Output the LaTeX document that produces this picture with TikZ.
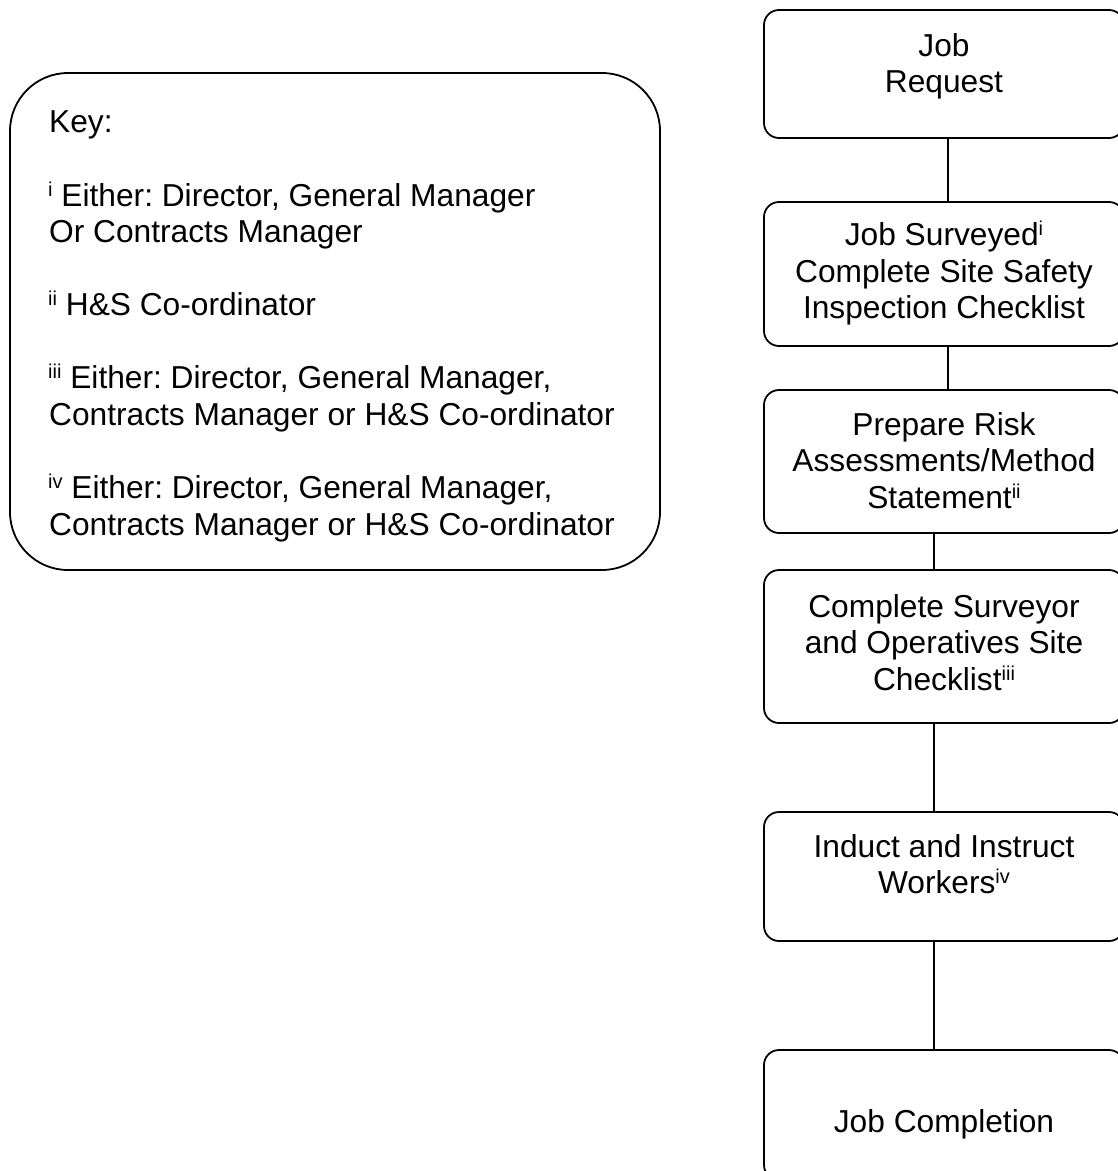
\documentclass[tikz,border=0pt]{standalone}
\usepackage{fontspec}
\setmainfont{Liberation Sans}
\frenchspacing
\newcommand\supx[1]{\raisebox{10pt}{\fontsize{20}{20}\selectfont #1}}
\tikzset{
  flowbox/.style={draw, line width=1.8pt, rounded corners=15pt, inner sep=0pt, outer sep=0pt, minimum width=360pt},
  flowtxt/.style={align=center, inner sep=0pt, font=\fontsize{31.7}{36.5}\selectfont},
  keytxt/.style={anchor=base west, inner sep=0pt, font=\fontsize{31.7}{35}\selectfont},
  link/.style={line width=1.8pt}
}
\begin{document}
\begin{tikzpicture}[x=1pt,y=-1pt]
\useasboundingbox (0,0) rectangle (1118,1171);
\clip (0,0) rectangle (1118,1171);
% key box
\node[draw, line width=1.8pt, rounded corners=58pt, inner sep=0pt, minimum width=650pt, minimum height=497pt] (key) at (335,321.5) {};
\node[keytxt] (k1) at (49,132) {Key:};
\node[keytxt] (k2) at (48,206) {\supx{i} Either: Director, General Manager};
\node[keytxt] (k3) at (49,242) {Or Contracts Manager};
\node[keytxt] (k4) at (48,315) {\supx{ii} H\&S Co-ordinator};
\node[keytxt] (k5) at (48,388) {\supx{iii} Either: Director, General Manager,};
\node[keytxt] (k6) at (49,425) {Contracts Manager or H\&S Co-ordinator};
\node[keytxt] (k7) at (48,498) {\supx{iv} Either: Director, General Manager,};
\node[keytxt] (k8) at (49,535) {Contracts Manager or H\&S Co-ordinator};
% flow boxes
\node[flowbox, minimum height=128pt] (b1) at (944,74) {};
\node[flowbox, minimum height=144pt] (b2) at (944,274) {};
\node[flowbox, minimum height=143pt] (b3) at (944,461.5) {};
\node[flowbox, minimum height=153pt] (b4) at (944,646.5) {};
\node[flowbox, minimum height=129pt] (b5) at (944,876.5) {};
\node[flowbox, minimum height=130pt] (b6) at (944,1115) {};
% texts
\node[flowtxt] (t1) at (944,67) {\strut Job\\Request\strut};
\node[flowtxt] (t2) at (944,275) {\strut Job Surveyed\supx{i}\\Complete Site Safety\\Inspection Checklist\strut};
\node[flowtxt] (t3) at (944,464.5) {\strut Prepare Risk\\Assessments/Method\\Statement\supx{ii}\strut};
\node[flowtxt] (t4) at (944,646.5) {\strut Complete Surveyor\\and Operatives Site\\Checklist\supx{iii}\strut};
\node[flowtxt] (t5) at (944,868) {\strut Induct and Instruct\\Workers\supx{iv}\strut};
\node[flowtxt] (t6) at (944,1125) {\strut Job Completion\strut};
% connectors
\draw[link] ([xshift=4pt]b1.south) -- ([xshift=4pt]b2.north);
\draw[link] ([xshift=4pt]b2.south) -- ([xshift=4pt]b3.north);
\draw[link] ([xshift=-10pt]b3.south) -- ([xshift=-10pt]b4.north);
\draw[link] ([xshift=-10pt]b4.south) -- ([xshift=-10pt]b5.north);
\draw[link] ([xshift=-10pt]b5.south) -- ([xshift=-10pt]b6.north);
\end{tikzpicture}
\end{document}
